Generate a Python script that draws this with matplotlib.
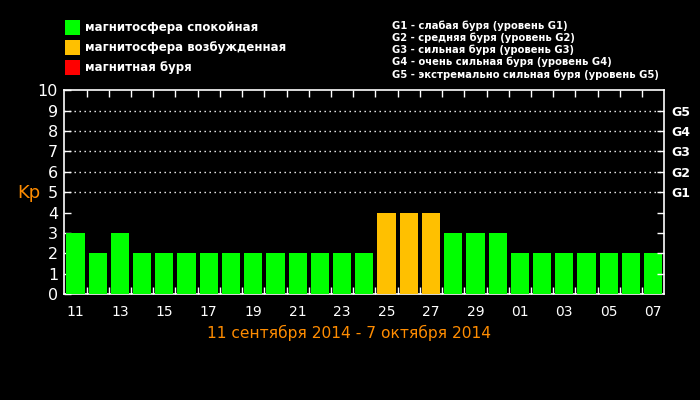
import numpy as np
import matplotlib
matplotlib.use("Agg")
import matplotlib.pyplot as plt
from matplotlib.patches import Rectangle

# Data
days = ["11", "12", "13", "14", "15", "16", "17", "18", "19", "20",
        "21", "22", "23", "24", "25", "26", "27", "28", "29", "30",
        "01", "02", "03", "04", "05", "06", "07"]
kp = [3, 2, 3, 2, 2, 2, 2, 2, 2, 2,
      2, 2, 2, 2, 4, 4, 4, 3, 3, 3,
      2, 2, 2, 2, 2, 2, 2]

legend_labels = ["магнитосфера спокойная", "магнитосфера возбужденная", "магнитная буря"]
legend_colors = ["#00ff00", "#ffc000", "#ff0000"]

storm_levels = [5, 6, 7, 8, 9]
storm_labels = ["G1", "G2", "G3", "G4", "G5"]
storm_desc = [
    "G1 - слабая буря (уровень G1)",
    "G2 - средняя буря (уровень G2)",
    "G3 - сильная буря (уровень G3)",
    "G4 - очень сильная буря (уровень G4)",
    "G5 - экстремально сильная буря (уровень G5)",
]

title = "11 сентября 2014 - 7 октября 2014"
orange = "#ff8c00"


def bar_color(v):
    if v >= 5:
        return legend_colors[2]
    if v >= 4:
        return legend_colors[1]
    return legend_colors[0]


fig = plt.figure(figsize=(7, 4), dpi=100, facecolor="black")
ax = fig.add_axes([64.3 / 700, 1 - 294 / 400, 600 / 700, 203.7 / 400])
ax.set_facecolor("black")

x = np.arange(len(days))
ax.bar(x, kp, width=0.82, color=[bar_color(v) for v in kp], zorder=3)

ax.set_xlim(-0.5, len(days) - 0.5)
ax.set_ylim(0, 10)

# dotted storm lines
for lvl in storm_levels:
    ax.axhline(lvl, color="white", linestyle=(0, (1, 2.6)), linewidth=1, zorder=1)

for s in ax.spines.values():
    s.set_color("white")
    s.set_linewidth(1.2)

# x ticks
ax.set_xticks(x[::2])
ax.set_xticklabels(days[::2])
ax.set_xticks(np.arange(0.5, len(days) - 1, 1), minor=True)
ax.tick_params(axis="x", which="major", length=0, pad=8, colors="white", labelsize=10)
ax.tick_params(axis="x", which="minor", direction="in", length=5, width=1,
               color="white", top=True, bottom=True)

# y ticks
ax.set_yticks(range(0, 11))
ax.tick_params(axis="y", which="major", direction="in", length=5, width=1,
               colors="white", labelsize=11.5, pad=4.5)

ax2 = ax.twinx()
ax2.set_ylim(0, 10)
ax2.set_yticks(range(1, 10))
ax2.set_yticklabels([""] * 4 + storm_labels)
ax2.tick_params(axis="y", direction="in", length=5, width=1, colors="white",
                labelsize=9, pad=5)
for lab in ax2.get_yticklabels():
    lab.set_fontweight("bold")
for s in ax2.spines.values():
    s.set_visible(False)

# Kp label and title
fig.text(29 / 700, 1 - 193 / 400, "Kp", color=orange, fontsize=13,
         ha="center", va="center")
fig.text(349 / 700, 1 - 333 / 400, title, color=orange, fontsize=11.2,
         ha="center", va="center")

# left legend
for i, (lab, col) in enumerate(zip(legend_labels, legend_colors)):
    y0 = 20 + 20 * i
    fig.patches.append(Rectangle((65 / 700, 1 - (y0 + 15) / 400), 15 / 700, 15 / 400,
                                 transform=fig.transFigure, facecolor=col,
                                 edgecolor="none"))
    fig.text(85 / 700, 1 - (y0 + 7.5) / 400, lab, color="white", fontsize=8.5,
             fontweight="bold", ha="left", va="center")

# right legend
for i, line in enumerate(storm_desc):
    fig.text(392 / 700, 1 - (25.5 + 12.2 * i) / 400, line, color="white",
             fontsize=7.2, fontweight="bold", ha="left", va="center")

fig.savefig("out.png", dpi=100, facecolor="black")
